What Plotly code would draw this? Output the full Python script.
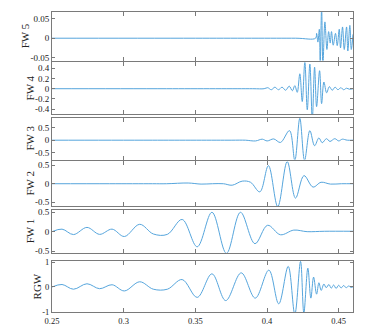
# waveform decomposition: RGW and its FW 1..FW 5 components, stacked panels
import plotly.graph_objects as go
from plotly.subplots import make_subplots

# ---- data (extrema of each trace) ----
t_fw5 = [0.25, 0.35, 0.42, 0.4339, 0.4346, 0.4355, 0.4365, 0.4371, 0.4381, 0.4390, 0.4404, 0.4418,
         0.4430, 0.4441, 0.4450, 0.4462, 0.4478, 0.4490, 0.4504, 0.4513, 0.4527, 0.4539,
         0.4555, 0.4564, 0.4578, 0.4588, 0.4600]
y_fw5 = [0, 0, 0, 0, 0.0125, -0.01, 0.023, -0.07, 0.08, -0.07, 0.042, -0.029,
         0.017, -0.0125, 0.017, -0.018, 0.0125, -0.019, 0.023, -0.025, 0.029, -0.029,
         0.029, -0.033, 0.033, -0.029, 0.01]

t_fw4 = [0.25, 0.33, 0.39, 0.398, 0.4005, 0.403, 0.4055, 0.408, 0.4105, 0.413, 0.4155, 0.4177,
         0.4194, 0.4211, 0.4229, 0.4246, 0.4264, 0.4281, 0.4299, 0.4316, 0.4332, 0.4346,
         0.4367, 0.4381, 0.4397, 0.4416, 0.4435, 0.4455, 0.4475, 0.4495, 0.4515, 0.4535,
         0.4555, 0.4575, 0.46]
y_fw4 = [0, 0, 0, 0, 0.02, -0.02, 0.03, -0.02, 0.03, -0.03, 0.05, -0.04,
         0.06, -0.07, 0.29, -0.25, 0.52, -0.41, 0.48, -0.6, 0.42, -0.35,
         0.35, -0.29, 0.13, -0.08, 0.04, -0.03, 0.03, -0.02, 0.02, -0.02,
         0.01, -0.01, 0]

t_fw3 = [0.25, 0.32, 0.375, 0.385, 0.392, 0.3967, 0.4001, 0.4047, 0.4094, 0.4157, 0.4194, 0.4229,
         0.4262, 0.4299, 0.4332, 0.4362, 0.4385, 0.4415, 0.4439, 0.4473, 0.4501, 0.4525,
         0.456, 0.46]
y_fw3 = [0, 0, 0, 0, -0.03, 0.04, -0.03, 0.05, -0.09, 0.38, -0.8, 0.87,
         -0.8, 0.38, -0.22, 0.09, -0.1, 0.06, -0.05, 0.06, -0.03, 0.04,
         0, 0]

t_fw2 = [0.25, 0.29, 0.32, 0.33, 0.345, 0.354, 0.362, 0.3696, 0.3757, 0.3827, 0.3885, 0.395,
         0.401, 0.4075, 0.4141, 0.4199, 0.4258, 0.4321, 0.4377, 0.4443, 0.452, 0.46]
y_fw2 = [0, 0, 0, 0, 0.02, -0.01, 0, 0, -0.04, 0.07, 0.04, -0.22,
         0.49, -0.62, 0.6, -0.39, 0.22, -0.09, 0.04, -0.01, 0, 0]

t_fw1 = [0.25, 0.257, 0.265, 0.2744, 0.2832, 0.2919, 0.3005, 0.3112, 0.3207, 0.3305,
         0.3408, 0.3513, 0.3616, 0.3717, 0.3815, 0.3916, 0.4004, 0.4094, 0.4187, 0.428,
         0.44, 0.46]
y_fw1 = [0, 0.065, -0.075, 0.11, -0.07, 0.065, -0.125, 0.19, -0.06, -0.07,
         0.315, -0.39, 0.5, -0.56, 0.5, -0.31, 0.165, -0.08, 0.04, 0,
         0.01, 0.01]

t_rgw = [0.25, 0.257, 0.265, 0.2744, 0.2832, 0.2919, 0.3005, 0.3112, 0.3207, 0.3305,
         0.3408, 0.3513, 0.3616, 0.3712, 0.382, 0.3918, 0.4013, 0.4082, 0.4148, 0.4194,
         0.4234, 0.4257, 0.4285, 0.4306, 0.4325, 0.4346, 0.4362, 0.4378, 0.4397, 0.4413,
         0.4432, 0.4448, 0.4465, 0.4482, 0.45, 0.4517, 0.4535, 0.4552, 0.457, 0.4587, 0.46]
y_rgw = [0, 0.1, -0.09, 0.13, -0.07, 0.09, -0.16, 0.21, -0.09, -0.09,
         0.3, -0.42, 0.53, -0.55, 0.57, -0.45, 0.68, -0.68, 0.83, -1.1,
         1.03, -1.05, 0.76, -0.45, 0.4, -0.29, 0.17, -0.14, 0.12, -0.03,
         0.1, -0.05, 0.08, -0.06, 0.07, -0.04, 0.06, -0.03, 0.04, -0.02, 0.01]

names = ['FW 5', 'FW 4', 'FW 3', 'FW 2', 'FW 1', 'RGW']
series_t = [t_fw5, t_fw4, t_fw3, t_fw2, t_fw1, t_rgw]
series_y = [y_fw5, y_fw4, y_fw3, y_fw2, y_fw1, y_rgw]

y_ranges = [[-0.0575, 0.0675], [-0.5, 0.51], [-0.77, 0.9], [-0.6, 0.61], [-0.545, 0.565], [-1.01, 1.055]]
y_ticks = [[-0.05, 0, 0.05], [-0.4, -0.2, 0, 0.2, 0.4], [-0.5, 0, 0.5], [-0.5, 0, 0.5], [-0.5, 0, 0.5], [-1, 0, 1]]
y_ticktext = [['-0.05', '0', '0.05'], ['-0.4', '-0.2', '0', '0.2', '0.4'], ['-0.5', '0', '0.5'],
              ['-0.5', '0', '0.5'], ['-0.5', '0', '0.5'], ['-1', '0', '1']]
x_ticks = [0.25, 0.3, 0.35, 0.4, 0.45]
x_ticktext = ['0.25', '0.3', '0.35', '0.4', '0.45']

# panel extents (top, bottom) as seen in the reference page, px
panel_px = [(3, 53), (55, 108.5), (111.7, 155), (156.7, 202.7), (206.7, 251), (259.3, 312)]
title_x = [-27, -22, -22, -22, -22, -15]

# the page body has an 8px margin, so the figure is 382x324 and the
# panels are squeezed into figure rows 0..304 (page rows 8..312)
REF_TOP, REF_BOT = 3.0, 312.0
H = 304.0

def to_paper(y):
    return 1 - (y - REF_TOP) / (REF_BOT - REF_TOP)

font = 'Liberation Serif, Times New Roman, serif'
line_col = '#56a5dc'
axis_col = '#7a7a7a'

fig = make_subplots(rows=6, cols=1, shared_xaxes=True)

for i in range(6):
    fig.add_trace(go.Scatter(x=series_t[i], y=series_y[i], mode='lines', line_shape='spline',
                             line=dict(color=line_col, width=1), showlegend=False),
                  row=i + 1, col=1)
    top, bot = panel_px[i]
    fig.update_yaxes(domain=[max(0, to_paper(bot)), min(1, to_paper(top))], range=y_ranges[i],
                     tickvals=y_ticks[i], ticktext=y_ticktext[i],
                     ticks='inside', ticklen=3, tickcolor=axis_col,
                     showline=True, linecolor=axis_col, linewidth=1, mirror='ticks',
                     showgrid=False, zeroline=False,
                     tickfont=dict(family=font, size=9 if i < 5 else 8.5, color='#222'),
                     row=i + 1, col=1)
    fig.update_xaxes(range=[0.25, 0.46], tickvals=x_ticks, ticktext=x_ticktext,
                     ticks='inside', ticklen=4, tickcolor=axis_col,
                     showline=True, linecolor=axis_col, linewidth=1, mirror='ticks',
                     showgrid=False, zeroline=False, showticklabels=(i == 5),
                     ticklabelstandoff=1,
                     tickfont=dict(family=font, size=8.5, color='#222'),
                     row=i + 1, col=1)
    fig.add_annotation(text=names[i], xref='paper', yref='paper', x=0,
                       y=(to_paper(top) + to_paper(bot)) / 2, textangle=-90, showarrow=False,
                       xanchor='center', yanchor='middle', xshift=title_x[i],
                       font=dict(family=font, size=11, color='#222'))

fig.update_layout(width=382, height=324, margin=dict(l=44, r=37, t=0, b=20),
                  plot_bgcolor='white', paper_bgcolor='white')

fig.write_html("out.html")
